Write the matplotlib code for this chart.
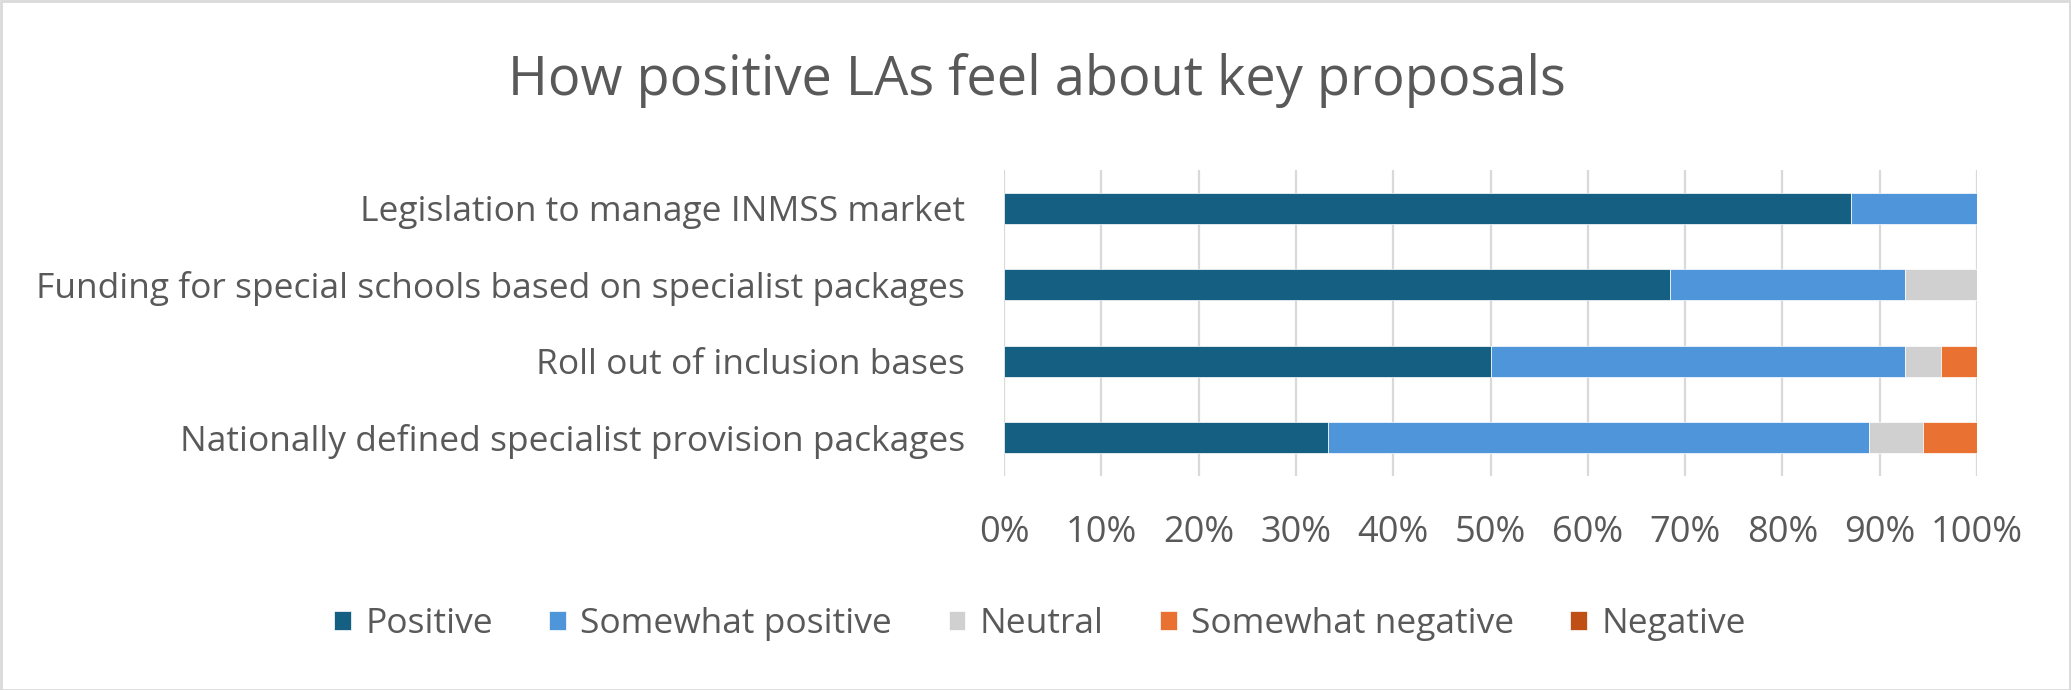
import matplotlib
matplotlib.use("Agg")
import matplotlib.pyplot as plt
from matplotlib.patches import Rectangle
import numpy as np

categories = [
    "Legislation to manage INMSS market",
    "Funding for special schools based on specialist packages",
    "Roll out of inclusion bases",
    "Nationally defined specialist provision packages",
]
series_names = ["Positive", "Somewhat positive", "Neutral", "Somewhat negative", "Negative"]
positive = [87.0, 68.4, 50.0, 33.3]
somewhat_positive = [13.0, 24.2, 42.6, 55.6]
neutral = [0.0, 7.4, 3.7, 5.6]
somewhat_negative = [0.0, 0.0, 3.7, 5.5]
negative = [0.0, 0.0, 0.0, 0.0]
colors = ["#156082", "#4E95D9", "#D0D0D0", "#E97132", "#C04F15"]
xticks = [0, 10, 20, 30, 40, 50, 60, 70, 80, 90, 100]

plt.rcParams['font.family'] = ['Open Sans', 'DejaVu Sans']
TXT = "#595959"

fig = plt.figure(figsize=(20.71, 6.9), dpi=100)
W, H = 2071, 690
ax = fig.add_axes([1004 / W, 1 - 476 / H, (1977 - 1004) / W, (476 - 170) / H])

y = np.arange(len(categories))
left = np.zeros(len(categories))
for name, vals, c in zip(series_names,
                         [positive, somewhat_positive, neutral, somewhat_negative, negative],
                         colors):
    vals = np.array(vals)
    ax.barh(y, vals, left=left, height=0.40, color=c, label=name,
            edgecolor="white", linewidth=0.5, zorder=3)
    left += vals

ax.set_ylim(len(categories) - 0.5, -0.5)
ax.set_xlim(0, 100)
ax.set_yticks(y)
ax.set_yticklabels(categories, fontsize=25.5, color=TXT)
ax.set_xticks(xticks)
ax.set_xticklabels([f"{t}%" for t in xticks], fontsize=26, color=TXT)
ax.tick_params(axis='both', length=0)
ax.tick_params(axis='y', pad=28)
ax.tick_params(axis='x', pad=28)
ax.grid(axis='x', color="#D9D9D9", linewidth=1.6, zorder=0)
for s in ax.spines.values():
    s.set_visible(False)

fig.text(1037 / W, 1 - 95 / H, "How positive LAs feel about key proposals",
         ha='center', va='baseline', fontsize=39, color=TXT)

leg = fig.legend(loc='center', bbox_to_anchor=(1040 / W, 1 - 624 / H), ncol=5,
                 frameon=False, fontsize=25.5, handlelength=0.47, handleheight=0.47,
                 handletextpad=0.4, columnspacing=1.6)
for t in leg.get_texts():
    t.set_color(TXT)

fig.patches.append(Rectangle((0.5 / W, 0.5 / H), 1 - 1.5 / W, 1 - 1.5 / H,
                             transform=fig.transFigure, fill=False,
                             edgecolor="#D9D9D9", linewidth=2))

fig.savefig("out.png", dpi=100)
